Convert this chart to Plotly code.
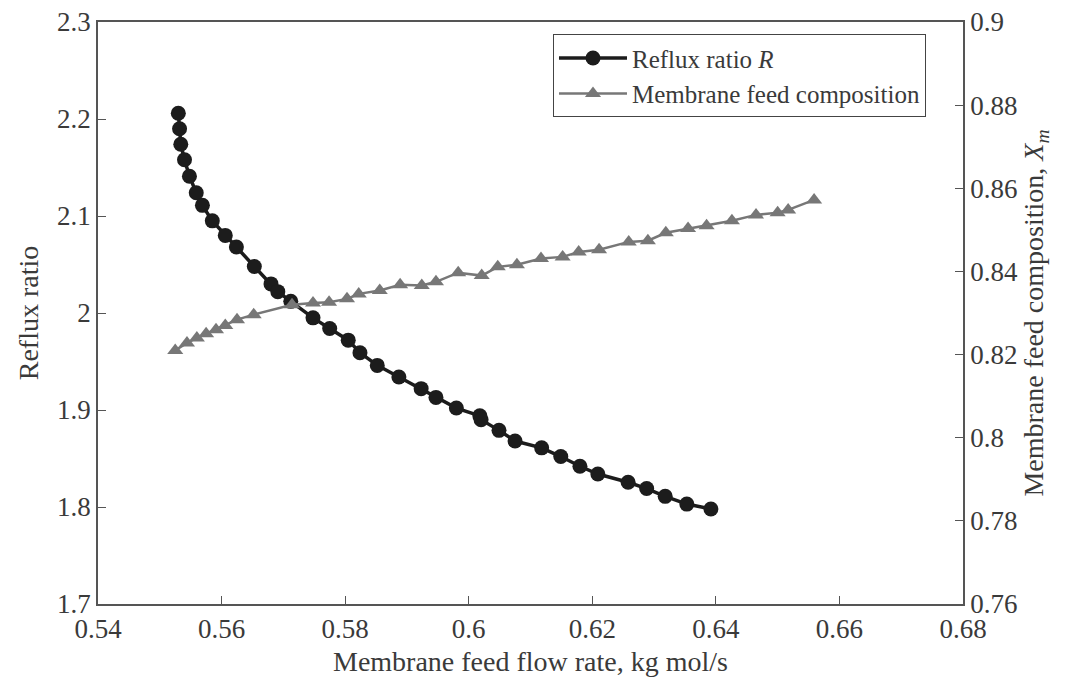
import plotly.graph_objects as go

# Reflux ratio R vs membrane feed flow rate
flow_R = [0.5530, 0.5532, 0.5534, 0.5540, 0.5548, 0.5559, 0.5569, 0.5585, 0.5606, 0.5624,
          0.5653, 0.5680, 0.5691, 0.5712, 0.5748, 0.5775, 0.5805, 0.5824, 0.5852, 0.5887,
          0.5923, 0.5947, 0.5980, 0.6018, 0.6020, 0.6049, 0.6075, 0.6118, 0.6149, 0.6180,
          0.6209, 0.6258, 0.6288, 0.6318, 0.6353, 0.6392]
reflux_R = [2.206, 2.190, 2.174, 2.158, 2.141, 2.124, 2.111, 2.095, 2.080, 2.068,
            2.048, 2.030, 2.022, 2.012, 1.995, 1.984, 1.972, 1.959, 1.946, 1.934,
            1.922, 1.913, 1.902, 1.894, 1.890, 1.879, 1.868, 1.861, 1.852, 1.842,
            1.834, 1.8255, 1.819, 1.811, 1.803, 1.798]

# Membrane feed composition Xm vs membrane feed flow rate
flow_X = [0.5525, 0.5544, 0.5560, 0.5575, 0.5591, 0.5606, 0.5625, 0.5652, 0.5714, 0.5748,
          0.5774, 0.5803, 0.5822, 0.5856, 0.5889, 0.5924, 0.5947, 0.5983, 0.6021, 0.6047,
          0.6078, 0.6117, 0.6152, 0.6178, 0.6211, 0.6259, 0.6290, 0.6319, 0.6355, 0.6385,
          0.6426, 0.6465, 0.6500, 0.6517, 0.6559]
comp_X = [0.8210, 0.8228, 0.8240, 0.8250, 0.8260, 0.8270, 0.8284, 0.8296, 0.8320, 0.8324,
          0.8326, 0.8334, 0.8346, 0.8354, 0.8368, 0.8366, 0.8375, 0.8397, 0.8390, 0.8411,
          0.8416, 0.8431, 0.8435, 0.8447, 0.8452, 0.8471, 0.8474, 0.8493, 0.8503, 0.8510,
          0.8522, 0.8536, 0.8541, 0.8548, 0.8572]

x_ticks = [0.54, 0.56, 0.58, 0.6, 0.62, 0.64, 0.66, 0.68]
y_ticks = [1.7, 1.8, 1.9, 2, 2.1, 2.2, 2.3]
y2_ticks = [0.76, 0.78, 0.8, 0.82, 0.84, 0.86, 0.88, 0.9]

FONT = "Liberation Serif"
AX = "#555555"
TXT = "#3a3a3a"

fig = go.Figure()
fig.add_trace(go.Scatter(
    x=flow_R, y=reflux_R, mode="lines+markers", name="Reflux ratio <i>R</i>",
    line=dict(color="#1c1c1c", width=3.5),
    marker=dict(symbol="circle", size=15, color="#1c1c1c"),
    yaxis="y"))
fig.add_trace(go.Scatter(
    x=flow_X, y=comp_X, mode="lines+markers", name="Membrane feed composition",
    line=dict(color="#777777", width=2.5),
    marker=dict(symbol="triangle-up", size=14, color="#777777"),
    yaxis="y2"))

# page body adds an 8px offset, so the figure is 8px smaller on each axis
fig.update_layout(
    width=1063, height=670,
    margin=dict(l=90, r=108, t=14, b=74, autoexpand=False),
    paper_bgcolor="white", plot_bgcolor="white",
    font=dict(family=FONT, size=27, color=TXT),
    showlegend=True,
    legend=dict(x=0.526, y=0.979, xanchor="left", yanchor="top",
                bgcolor="white", bordercolor="#444444", borderwidth=1,
                font=dict(family=FONT, size=25, color=TXT),
                tracegroupgap=0, itemwidth=68),
    xaxis=dict(range=[0.54, 0.68], tickvals=x_ticks, ticks="inside", ticklen=8,
               tickcolor=AX, showline=True, linecolor=AX, linewidth=1.5, mirror=True,
               showgrid=False, zeroline=False, automargin=False,
               ticklabeloverflow="allow",
               title=dict(text="Membrane feed flow rate, kg mol/s", standoff=8,
                          font=dict(family=FONT, size=28, color=TXT)),
               tickfont=dict(family=FONT, size=27, color=TXT)),
    yaxis=dict(range=[1.7, 2.3], tickvals=y_ticks, ticks="inside", ticklen=8,
               tickcolor=AX, showline=True, linecolor=AX, linewidth=1.5,
               showgrid=False, zeroline=False, automargin=False,
               ticklabeloverflow="allow",
               title=dict(text="Reflux ratio", standoff=10,
                          font=dict(family=FONT, size=28, color=TXT)),
               tickfont=dict(family=FONT, size=27, color=TXT)),
    yaxis2=dict(range=[0.76, 0.9], tickvals=y2_ticks, overlaying="y", side="right",
                ticks="inside", ticklen=8, tickcolor=AX, showline=True, linecolor=AX,
                linewidth=1.5, showgrid=False, zeroline=False, automargin=False,
                ticklabeloverflow="allow",
                title=dict(text="Membrane feed composition, <i>X<sub>m</sub></i>", standoff=2,
                           font=dict(family=FONT, size=28, color=TXT)),
                tickfont=dict(family=FONT, size=27, color=TXT)),
)

fig.write_html("out.html")
